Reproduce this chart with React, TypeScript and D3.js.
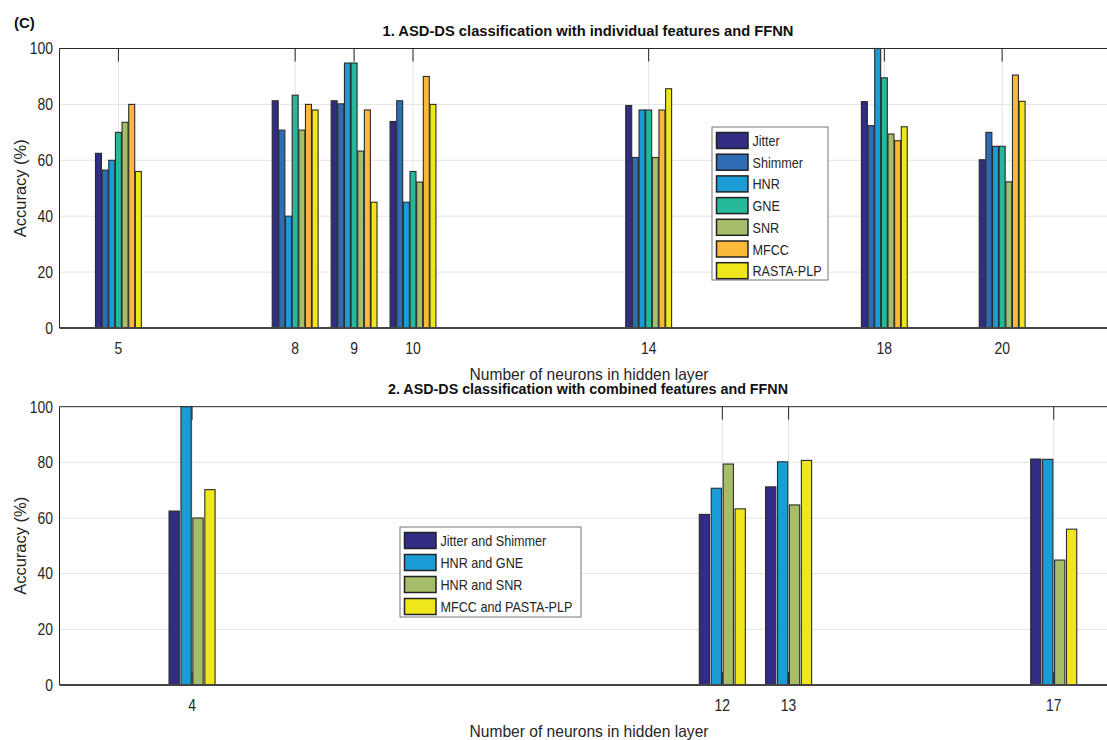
import React from "react";
import * as d3 from "d3";

// Panel 1: individual features
const topCategories = [5, 8, 9, 10, 14, 18, 20];
const topSeries = ["Jitter", "Shimmer", "HNR", "GNE", "SNR", "MFCC", "RASTA-PLP"];
const topJitter = [62.5, 81.3, 81.3, 73.9, 79.6, 81, 60.2];
const topShimmer = [56.5, 70.8, 80.2, 81.3, 61, 72.4, 70];
const topHNR = [60, 40, 94.8, 45, 78, 100, 65];
const topGNE = [70, 83.3, 94.8, 56, 78, 89.5, 65];
const topSNR = [73.6, 70.8, 63.3, 52.2, 61, 69.4, 52.3];
const topMFCC = [80, 80, 78, 90, 78, 67, 90.5];
const topRASTA = [56, 78, 45, 80, 85.6, 72, 81.1];
const topColors = ["#312d85", "#2e6db6", "#1b9cd6", "#25b89b", "#a6be6a", "#fbb93a", "#efe71c"];

// Panel 2: combined features
const botCategories = [4, 12, 13, 17];
const botSeries = ["Jitter and Shimmer", "HNR and GNE", "HNR and SNR", "MFCC and PASTA-PLP"];
const botJitterShimmer = [62.5, 61.3, 71.2, 81.2];
const botHNRGNE = [100, 70.7, 80.2, 81.1];
const botHNRSNR = [60, 79.4, 64.7, 44.9];
const botMFCCRasta = [70.2, 63.3, 80.7, 56];
const botColors = ["#312d85", "#1b9cd6", "#a6be6a", "#efe71c"];

const yTicks = [0, 20, 40, 60, 80, 100];

const FONT = "'Liberation Sans', Arial, Helvetica, sans-serif";
const SX = 0.87;

type PanelProps = {
  title: string;
  titleWidth: number;
  categories: number[];
  series: string[];
  values: number[][];
  colors: string[];
  xDomain: [number, number];
  top: number;
  bottom: number;
  groupStep: number;
  barPad: number;
  legend: { x: number; y: number; w: number; h: number; row: number };
};

const LEFT = 59.5;
const RIGHT = 1120;

function Panel(p: PanelProps) {
  const x = d3.scaleLinear().domain(p.xDomain).range([LEFT, RIGHT]);
  const y = d3.scaleLinear().domain([0, 100]).range([p.bottom, p.top]);
  const unit = x(p.xDomain[0] + 1) - x(p.xDomain[0]);
  const groupW = p.groupStep * unit;
  const inner = d3
    .scaleBand<string>()
    .domain(p.series)
    .range([-groupW / 2, groupW / 2])
    .paddingInner(p.barPad)
    .paddingOuter(p.barPad / 2);
  const midX = 588;
  return (
    <g>
      {/* grid */}
      {yTicks.slice(1, -1).map((t) => (
        <line key={"gy" + t} x1={LEFT} x2={RIGHT} y1={y(t)} y2={y(t)} stroke="#e3e3e3" strokeWidth={1} />
      ))}
      {p.categories.map((c) => (
        <line key={"gx" + c} x1={x(c)} x2={x(c)} y1={p.top} y2={p.bottom} stroke="#e3e3e3" strokeWidth={1} />
      ))}
      {/* tick marks */}
      {p.categories.map((c) => (
        <g key={"tk" + c}>
          <line x1={x(c)} x2={x(c)} y1={p.top} y2={p.top + 13} stroke="#262626" strokeWidth={1} />
          <line x1={x(c)} x2={x(c)} y1={p.bottom} y2={p.bottom - 13} stroke="#262626" strokeWidth={1} />
        </g>
      ))}
      {/* box */}
      <line x1={LEFT} x2={RIGHT} y1={p.top} y2={p.top} stroke="#262626" strokeWidth={1} />
      <line x1={LEFT} x2={LEFT} y1={p.top} y2={p.bottom} stroke="#262626" strokeWidth={1} />
      {/* bars */}
      {p.series.map((s, si) =>
        p.categories.map((c, ci) => {
          const v = p.values[si][ci];
          const bx = x(c) + (inner(s) as number);
          return (
            <rect
              key={s + c}
              x={bx}
              y={y(v)}
              width={inner.bandwidth()}
              height={y(0) - y(v)}
              fill={p.colors[si]}
              stroke="#2b2b2b"
              strokeWidth={1.1}
            />
          );
        })
      )}
      <line x1={LEFT} x2={RIGHT} y1={p.bottom} y2={p.bottom} stroke="#444" strokeWidth={2} />
      {/* y tick labels */}
      {yTicks.map((t) => (
        <text
          key={"yl" + t}
          transform={`translate(53,${y(t) + 5.8}) scale(${SX},1)`}
          textAnchor="end"
          fontSize={16}
          fontFamily={FONT}
          fill="#262626"
        >
          {t}
        </text>
      ))}
      {/* x tick labels */}
      {p.categories.map((c) => (
        <text
          key={"xl" + c}
          transform={`translate(${x(c)},${p.bottom + 26}) scale(${SX},1)`}
          textAnchor="middle"
          fontSize={16}
          fontFamily={FONT}
          fill="#262626"
        >
          {c}
        </text>
      ))}
      {/* labels */}
      <text
        x={midX}
        y={p.top - 12.5}
        textAnchor="middle"
        fontSize={14.5}
        fontWeight="bold"
        fontFamily={FONT}
        fill="#111"
        textLength={p.titleWidth}
        lengthAdjust="spacingAndGlyphs"
      >
        {p.title}
      </text>
      <text
        x={589}
        y={p.bottom + 52}
        textAnchor="middle"
        fontSize={16.5}
        fontFamily={FONT}
        fill="#262626"
        textLength={239}
        lengthAdjust="spacingAndGlyphs"
      >
        Number of neurons in hidden layer
      </text>
      <text
        transform={`translate(26,${(p.top + p.bottom) / 2}) rotate(-90)`}
        textAnchor="middle"
        fontSize={16}
        fontFamily={FONT}
        fill="#262626"
        textLength={98}
        lengthAdjust="spacingAndGlyphs"
      >
        Accuracy (%)
      </text>
      {/* legend */}
      <g transform={`translate(${p.legend.x},${p.legend.y})`}>
        <rect x={0} y={0} width={p.legend.w} height={p.legend.h} fill="#fff" stroke="#777" strokeWidth={1} />
        {p.series.map((s, i) => (
          <g key={"lg" + s} transform={`translate(4.5,${5.5 + i * p.legend.row})`}>
            <rect x={0} y={0} width={31.5} height={16} fill={p.colors[i]} stroke="#222" strokeWidth={1.5} />
            <text
              transform={`translate(36,13.5) scale(${SX},1)`}
              fontSize={14.5}
              fontFamily={FONT}
              fill="#262626"
            >
              {s}
            </text>
          </g>
        ))}
      </g>
    </g>
  );
}

export default function App() {
  return (
    <svg
      width={1107}
      height={740}
      style={{ position: "absolute", left: 0, top: 0, background: "#fff", display: "block" }}
    >
      <rect x={0} y={0} width={1107} height={740} fill="#fff" />
      <text x={14} y={28} fontSize={15} fontWeight="bold" fontFamily={FONT} fill="#111">
        (C)
      </text>
      <Panel
        title="1. ASD-DS classification with individual features and FFNN"
        titleWidth={411}
        categories={topCategories}
        series={topSeries}
        values={[topJitter, topShimmer, topHNR, topGNE, topSNR, topMFCC, topRASTA]}
        colors={topColors}
        xDomain={[4, 22]}
        top={48.5}
        bottom={328}
        groupStep={0.79}
        barPad={0.1}
        legend={{ x: 712, y: 127, w: 116, h: 153, row: 21.7 }}
      />
      <Panel
        title="2. ASD-DS classification with combined features and FFNN"
        titleWidth={400}
        categories={botCategories}
        series={botSeries}
        values={[botJitterShimmer, botHNRGNE, botHNRSNR, botMFCCRasta]}
        colors={botColors}
        xDomain={[2, 18]}
        top={406.7}
        bottom={685}
        groupStep={0.72}
        barPad={0.14}
        legend={{ x: 400, y: 527, w: 181, h: 90, row: 22 }}
      />
    </svg>
  );
}
